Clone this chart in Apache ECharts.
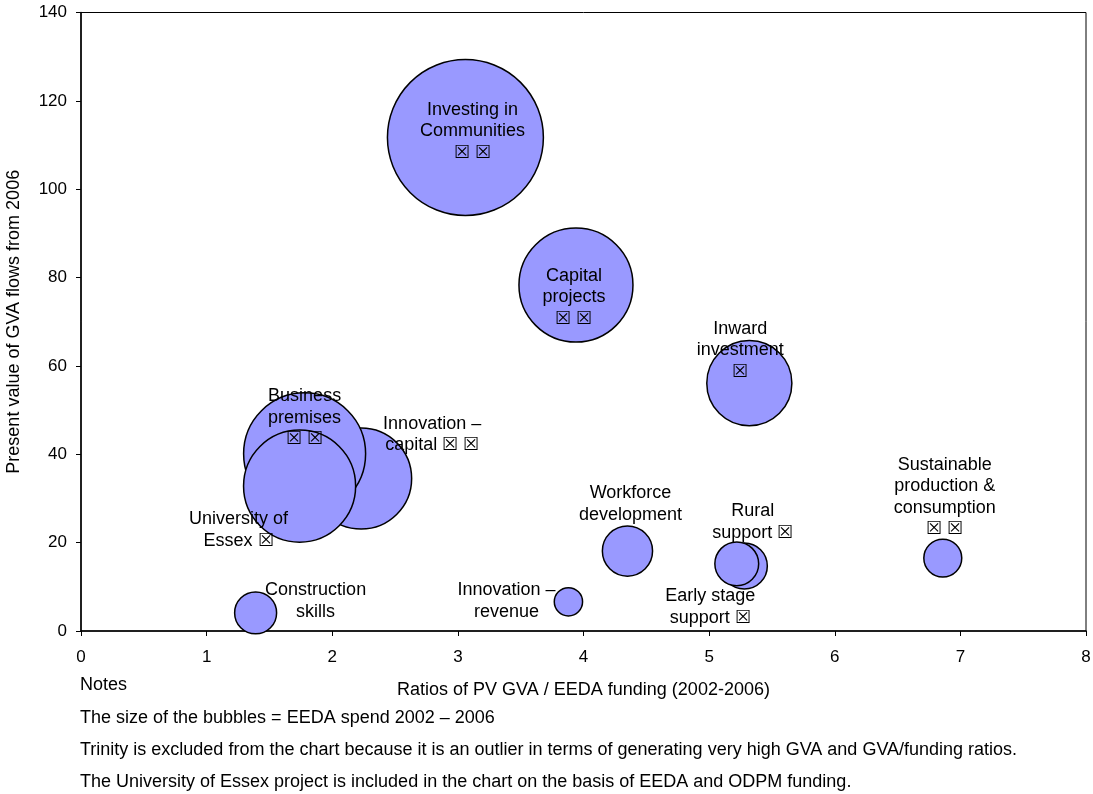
<!DOCTYPE html>
<html>
<head>
<meta charset="utf-8">
<script src="https://cdn.jsdelivr.net/npm/echarts@6/dist/echarts.min.js"></script>
<style>
  html, body { margin: 0; padding: 0; background: #ffffff; }
  #chart { width: 1093px; height: 794px; }
</style>
</head>
<body>
<div id="chart"></div>
<script>
// Programme areas, drawn back to front
var programmes = [
  'Innovation – capital', 'Business premises', 'University of Essex',
  'Investing in Communities', 'Capital projects', 'Inward investment',
  'Construction skills', 'Innovation – revenue', 'Workforce development',
  'Early stage support', 'Rural support', 'Sustainable production & consumption'
];
// Ratio of PV GVA to EEDA funding (2002-2006)
var gvaRatio = [2.23, 1.78, 1.74, 3.06, 3.94, 5.32, 1.39, 3.88, 4.35, 5.28, 5.22, 6.86];
// Present value of GVA flows from 2006
var pvGva = [34.5, 40.1, 32.8, 111.7, 78.3, 56.1, 4.1, 6.6, 18.1, 14.7, 15.2, 16.5];
// EEDA spend 2002-2006 (bubble area)
var eedaSpend = [25.5, 37.2, 31.4, 60.8, 32.5, 18.1, 4.4, 2.0, 6.3, 5.3, 4.8, 3.6];
// Bubble captions as printed
var captions = [
  'Innovation –\ncapital ☒ ☒', 'Business\npremises\n☒ ☒', 'University of\nEssex ☒',
  'Investing in\nCommunities\n☒ ☒', 'Capital\nprojects\n☒ ☒', 'Inward\ninvestment\n☒',
  'Construction\nskills', 'Innovation –\nrevenue', 'Workforce\ndevelopment',
  'Early stage\nsupport ☒', 'Rural\nsupport ☒', 'Sustainable\nproduction &\nconsumption\n☒ ☒'
];
var xTicks = [0, 1, 2, 3, 4, 5, 6, 7, 8];
var yTicks = [0, 20, 40, 60, 80, 100, 120, 140];
var notes = [
  'Notes',
  'The size of the bubbles = EEDA spend 2002 – 2006',
  'Trinity is excluded from the chart because it is an outlier in terms of generating very high GVA and GVA/funding ratios.',
  'The University of Essex project is included in the chart on the basis of EEDA and ODPM funding.'
];

// caption placement relative to each bubble centre (px)
var captionOffset = [
  [71, -44], [0, -36], [-61, 44], [7, -6], [-2, 12], [-9, -33],
  [60, -12], [-62, -1], [3, -47], [-34, 41], [16, -42], [2, -61]
];

var FONT = '"Liberation Sans", Arial, sans-serif';

var data = programmes.map(function (name, i) {
  return {
    name: name,
    value: [gvaRatio[i], pvGva[i], eedaSpend[i]],
    label: {
      show: true,
      position: 'inside',
      offset: captionOffset[i],
      formatter: captions[i]
    }
  };
});

var chart = echarts.init(document.getElementById('chart'), null, { renderer: 'canvas' });
chart.setOption({
  animation: false,
  backgroundColor: '#ffffff',
  grid: {
    left: 81, right: 7, top: 12.5, bottom: 163,
    containLabel: false, outerBoundsMode: 'none',
    show: true, borderColor: '#000000', borderWidth: 1, backgroundColor: 'transparent'
  },
  xAxis: {
    type: 'value',
    min: xTicks[0], max: xTicks[xTicks.length - 1], interval: 1,
    name: 'Ratios of PV GVA / EEDA funding (2002-2006)',
    nameLocation: 'middle', nameGap: 50,
    nameTextStyle: { fontFamily: FONT, fontSize: 18, color: '#000' },
    axisLine: { show: true, onZero: false, lineStyle: { color: '#000', width: 1.5 } },
    axisTick: { show: true, inside: false, length: 5, lineStyle: { color: '#000', width: 1 } },
    axisLabel: { fontFamily: FONT, fontSize: 17, color: '#000', margin: 18 },
    splitLine: { show: false }
  },
  yAxis: {
    type: 'value',
    min: yTicks[0], max: yTicks[yTicks.length - 1], interval: 20,
    name: 'Present value of GVA flows from 2006',
    nameLocation: 'middle', nameGap: 58, nameRotate: 90,
    nameTextStyle: { fontFamily: FONT, fontSize: 18, color: '#000' },
    axisLine: { show: true, onZero: false, lineStyle: { color: '#000', width: 1.5 } },
    axisTick: { show: true, inside: false, length: 5, lineStyle: { color: '#000', width: 1 } },
    axisLabel: { fontFamily: FONT, fontSize: 17, color: '#000', margin: 14 },
    splitLine: { show: false }
  },
  series: [{
    type: 'scatter',
    data: data,
    symbol: 'circle',
    symbolSize: function (v) { return 20 * Math.sqrt(v[2]); },
    itemStyle: { color: '#9999ff', borderColor: '#000000', borderWidth: 1.5, opacity: 1 },
    label: {
      fontFamily: FONT, fontSize: 18, color: '#000', lineHeight: 21.5,
      align: 'center', verticalAlign: 'middle'
    },
    emphasis: { disabled: true },
    z: 2
  }],
  graphic: notes.map(function (t, i) {
    return {
      type: 'text',
      left: 80,
      top: i === 0 ? 676 : 709 + (i - 1) * 32,
      style: { text: t, font: '18px ' + FONT, fill: '#000' }
    };
  })
});
</script>
</body>
</html>
